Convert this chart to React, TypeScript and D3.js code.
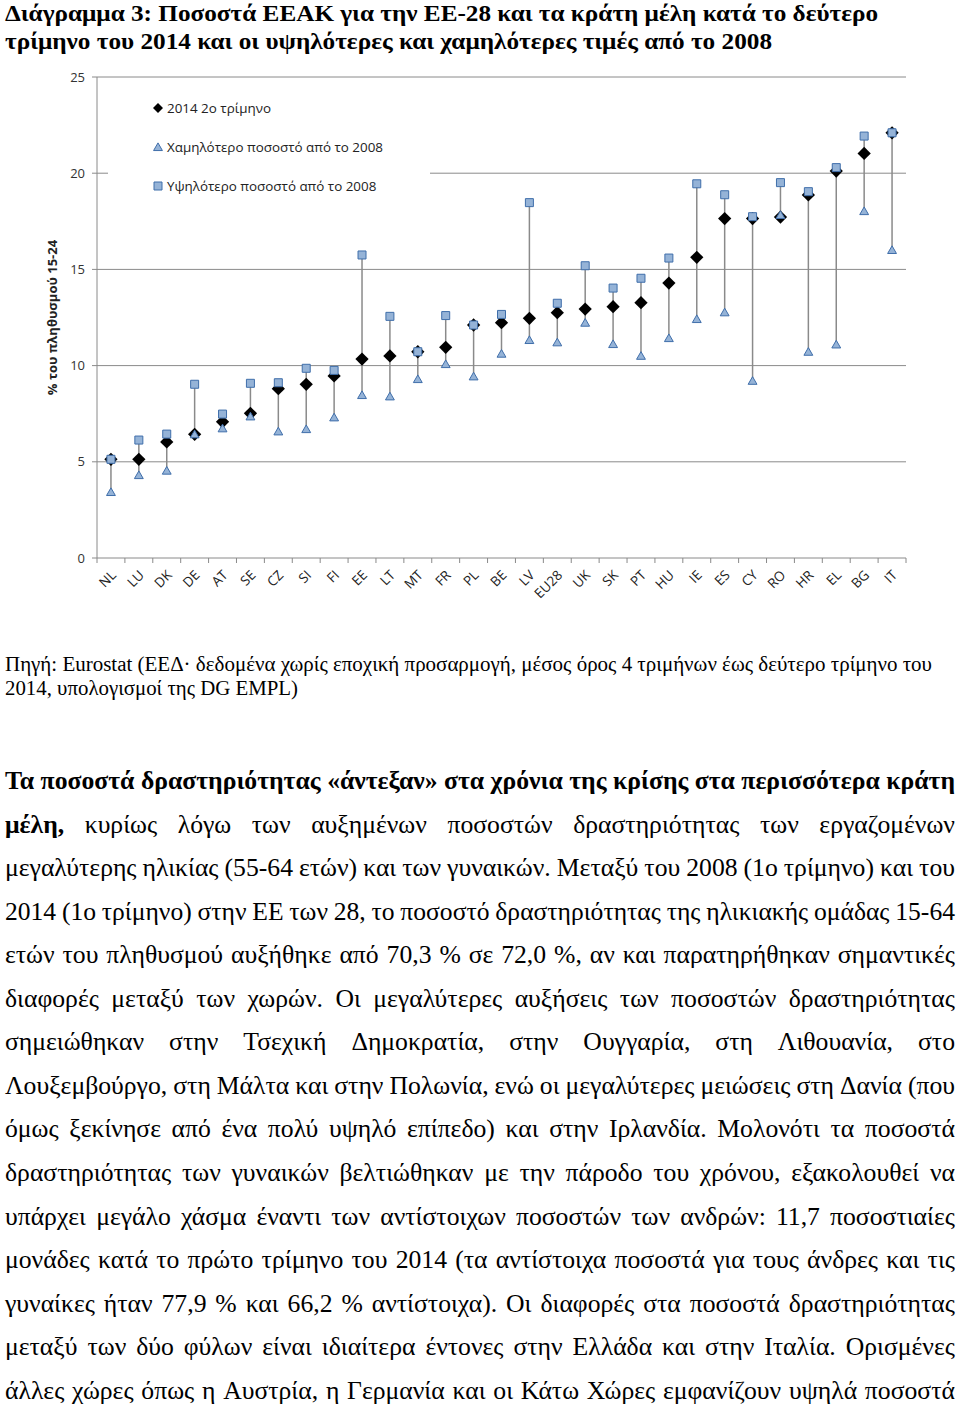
import React, { useMemo } from "react";
import * as d3 from "d3";

const categories = ["NL","LU","DK","DE","AT","SE","CZ","SI","FI","EE","LT","MT","FR","PL","BE","LV","EU28","UK","SK","PT","HU","IE","ES","CY","RO","HR","EL","BG","IT"];
const latest2014 = [5.13,5.13,6.03,6.43,7.08,7.52,8.8,9.03,9.46,10.34,10.5,10.72,10.95,12.11,12.23,12.46,12.75,12.94,13.06,13.27,14.29,15.63,17.64,17.64,17.72,18.87,20.11,21.03,22.1];
const lowestSince2008 = [3.38,4.26,4.49,6.38,6.69,7.31,6.53,6.65,7.26,8.42,8.35,9.25,10.03,9.39,10.57,11.28,11.16,12.18,11.07,10.46,11.38,12.37,12.72,9.16,17.78,10.67,11.05,17.98,15.96];
const highestSince2008 = [5.13,6.13,6.44,9.03,7.48,9.08,9.11,9.86,9.75,15.75,12.56,10.72,12.6,12.11,12.66,18.47,13.24,15.19,14.03,14.54,15.59,19.45,18.88,17.74,19.51,19.04,20.29,21.93,22.1];
const yTicks = [0,5,10,15,20,25];
const legendLabels = ["2014 2ο τρίμηνο","Χαμηλότερο ποσοστό από το 2008","Υψηλότερο ποσοστό από το 2008"];
const yAxisTitle = "% του πληθυσμού 15-24";

const titleLines = [
  "Διάγραμμα 3: Ποσοστά ΕΕΑΚ για την ΕΕ-28 και τα κράτη μέλη κατά το δεύτερο",
  "τρίμηνο του 2014 και οι υψηλότερες και χαμηλότερες τιμές από το 2008",
];
const sourceLines = [
  "Πηγή: Eurostat (ΕΕΔ·  δεδομένα χωρίς εποχική προσαρμογή, μέσος όρος 4 τριμήνων έως δεύτερο τρίμηνο του",
  "2014, υπολογισμοί της DG EMPL)",
];
type Seg = { text: string; bold?: boolean };
const paragraphLines: Seg[][] = [
  [{ text: "Τα ποσοστά δραστηριότητας «άντεξαν» στα χρόνια της κρίσης στα περισσότερα κράτη", bold: true }],
  [{ text: "μέλη,", bold: true }, { text: "κυρίως λόγω των αυξημένων ποσοστών δραστηριότητας των εργαζομένων" }],
  [{ text: "μεγαλύτερης ηλικίας (55-64 ετών) και των γυναικών. Μεταξύ του 2008 (1ο τρίμηνο) και του" }],
  [{ text: "2014 (1ο τρίμηνο) στην ΕΕ των 28, το ποσοστό δραστηριότητας της ηλικιακής ομάδας 15-64" }],
  [{ text: "ετών του πληθυσμού αυξήθηκε από 70,3 % σε 72,0 %, αν και παρατηρήθηκαν σημαντικές" }],
  [{ text: "διαφορές μεταξύ των χωρών. Οι μεγαλύτερες αυξήσεις των ποσοστών δραστηριότητας" }],
  [{ text: "σημειώθηκαν στην Τσεχική Δημοκρατία, στην Ουγγαρία, στη Λιθουανία, στο" }],
  [{ text: "Λουξεμβούργο, στη Μάλτα και στην Πολωνία, ενώ οι μεγαλύτερες μειώσεις στη Δανία (που" }],
  [{ text: "όμως ξεκίνησε από ένα πολύ υψηλό επίπεδο) και στην Ιρλανδία. Μολονότι τα ποσοστά" }],
  [{ text: "δραστηριότητας των γυναικών βελτιώθηκαν με την πάροδο του χρόνου, εξακολουθεί να" }],
  [{ text: "υπάρχει μεγάλο χάσμα έναντι των αντίστοιχων ποσοστών των ανδρών: 11,7 ποσοστιαίες" }],
  [{ text: "μονάδες κατά το πρώτο τρίμηνο του 2014 (τα αντίστοιχα ποσοστά για τους άνδρες και τις" }],
  [{ text: "γυναίκες ήταν 77,9 % και 66,2 % αντίστοιχα). Οι διαφορές στα ποσοστά δραστηριότητας" }],
  [{ text: "μεταξύ των δύο φύλων είναι ιδιαίτερα έντονες στην Ελλάδα και στην Ιταλία. Ορισμένες" }],
  [{ text: "άλλες χώρες όπως η Αυστρία, η Γερμανία και οι Κάτω Χώρες εμφανίζουν υψηλά ποσοστά" }],
];

const SERIF = '"Liberation Serif", "Times New Roman", serif';
const SANS = '"Open Sans", "Noto Sans", sans-serif';
const PARA_SIZE = 26;
const PARA_X0 = 5;
const PARA_X1 = 955;
const PARA_Y0 = 789;
const PARA_STEP = 43.55;

export default function App() {
  const W = 960, H = 1404;
  const x = d3.scaleBand<string>().domain(categories).range([97, 906]);
  const y = d3.scaleLinear().domain([0, 25]).range([558, 77]);
  const cx = (c: string) => (x(c) as number) + x.bandwidth() / 2;

  const diamond = d3.symbol().type(d3.symbolSquare).size(88)() as string;
  const square = d3.symbol().type(d3.symbolSquare).size(64)() as string;
  const triangle = d3.symbol().type(d3.symbolTriangle).size(34)() as string;

  const gridColor = "#8a8a8a";
  const mFill = "#95B3D7";
  const mStroke = "#3F6EAA";

  const layout = useMemo(() => {
    const canvas = document.createElement("canvas");
    const ctx = canvas.getContext("2d") as CanvasRenderingContext2D;
    const m = (t: string, b?: boolean) => {
      ctx.font = `${b ? "bold " : ""}${PARA_SIZE}px "Liberation Serif"`;
      return ctx.measureText(t).width;
    };
    const split = (line: Seg[]) =>
      line.flatMap((s) => s.text.split(/\s+/).filter(Boolean).map((w) => ({ text: w, bold: !!s.bold })));
    const width = PARA_X1 - PARA_X0;
    const w0 = split(paragraphLines[0]);
    const nat0 = d3.sum(w0, (w) => m(w.text, w.bold)) + (w0.length - 1) * m(" ", true);
    const sx = Math.min(1, width / nat0);
    const sp = m(" ");
    return paragraphLines.map((line) => {
      const words = split(line);
      const ws = words.map((w) => m(w.text, w.bold));
      const sum = d3.sum(ws);
      let s = sx;
      let gap = (width - sum * s) / (words.length - 1);
      if (gap < sp * s * 0.9) {
        s = width / (sum + sp * 0.9 * (words.length - 1));
        gap = sp * 0.9 * s;
      }
      let xx = PARA_X0;
      return words.map((w, i) => {
        const r = { ...w, x: xx, s };
        xx += ws[i] * s + gap;
        return r;
      });
    });
  }, []);

  return (
    <svg width={W} height={H} style={{ position: "absolute", left: 0, top: 0, background: "#fff" }}>
      <rect width={W} height={H} fill="#fff" />
      {/* Title */}
      <text x={5} y={21} fontFamily={SERIF} fontWeight="bold" fontSize={24} textLength={873} lengthAdjust="spacingAndGlyphs">{titleLines[0]}</text>
      <text x={5} y={49} fontFamily={SERIF} fontWeight="bold" fontSize={24} textLength={767} lengthAdjust="spacingAndGlyphs">{titleLines[1]}</text>

      {/* Grid lines */}
      {yTicks.map((t) => (
        <g key={t}>
          <line x1={92} x2={906} y1={y(t)} y2={y(t)} stroke={gridColor} strokeWidth={1} />
          <text x={85} y={y(t) + 4.5} textAnchor="end" fontFamily={SANS} fontSize={13} fill="#333">{t}</text>
        </g>
      ))}
      {/* Y axis */}
      <line x1={97} x2={97} y1={y(25)} y2={y(0) + 5} stroke={gridColor} strokeWidth={1} />
      {/* X ticks */}
      {categories.map((c) => (
        <line key={c} x1={(x(c) as number) + x.bandwidth()} x2={(x(c) as number) + x.bandwidth()} y1={y(0)} y2={y(0) + 5} stroke={gridColor} />
      ))}
      <text transform={`translate(57,${(y(0) + y(25)) / 2}) rotate(-90)`} textAnchor="middle" fontFamily={SANS} fontWeight="bold" fontSize={13} fill="#222">{yAxisTitle}</text>

      {/* Legend */}
      <rect x={108} y={92} width={322} height={108} fill="#fff" />
      <path d={diamond} transform="translate(158,108) rotate(45) scale(0.75)" fill="#000" />
      <text x={167} y={113} fontFamily={SANS} fontSize={13.4} fill="#222">{legendLabels[0]}</text>
      <path d={triangle} transform="translate(158,148)" fill={mFill} stroke={mStroke} />
      <text x={167} y={152} fontFamily={SANS} fontSize={13.4} fill="#222">{legendLabels[1]}</text>
      <path d={square} transform="translate(158,186)" fill={mFill} stroke={mStroke} />
      <text x={167} y={191} fontFamily={SANS} fontSize={13.4} fill="#222">{legendLabels[2]}</text>

      {/* Range lines */}
      {categories.map((c, i) => (
        <line key={c} x1={cx(c)} x2={cx(c)} y1={y(lowestSince2008[i])} y2={y(highestSince2008[i])} stroke={gridColor} strokeWidth={1.5} />
      ))}
      {categories.map((c, i) => (
        <path key={c} d={diamond} transform={`translate(${cx(c)},${y(latest2014[i])}) rotate(45)`} fill="#000" />
      ))}
      {categories.map((c, i) => (
        <path key={c} d={triangle} transform={`translate(${cx(c)},${y(lowestSince2008[i])})`} fill={mFill} stroke={mStroke} strokeWidth={1} />
      ))}
      {categories.map((c, i) => (
        <path key={c} d={square} transform={`translate(${cx(c)},${y(highestSince2008[i])})`} fill={mFill} stroke={mStroke} strokeWidth={1} />
      ))}
      {/* X labels */}
      {categories.map((c) => (
        <text key={c} transform={`translate(${cx(c) + 6},${y(0) + 18}) rotate(-45)`} textAnchor="end" fontFamily={SANS} fontSize={13.5} fill="#222">{c}</text>
      ))}

      {/* Source */}
      <text x={5} y={671} fontFamily={SERIF} fontSize={20} textLength={927} lengthAdjust="spacingAndGlyphs">{sourceLines[0]}</text>
      <text x={5} y={695} fontFamily={SERIF} fontSize={20} textLength={293} lengthAdjust="spacingAndGlyphs">{sourceLines[1]}</text>

      {/* Paragraph */}
      {layout.map((words, li) => (
        <g key={li}>
          {words.map((w, wi) => (
            <text key={wi} transform={`translate(${w.x},${PARA_Y0 + li * PARA_STEP}) scale(${w.s},1)`} fontFamily={SERIF} fontSize={PARA_SIZE} fontWeight={w.bold ? "bold" : "normal"}>{w.text}</text>
          ))}
        </g>
      ))}
    </svg>
  );
}
